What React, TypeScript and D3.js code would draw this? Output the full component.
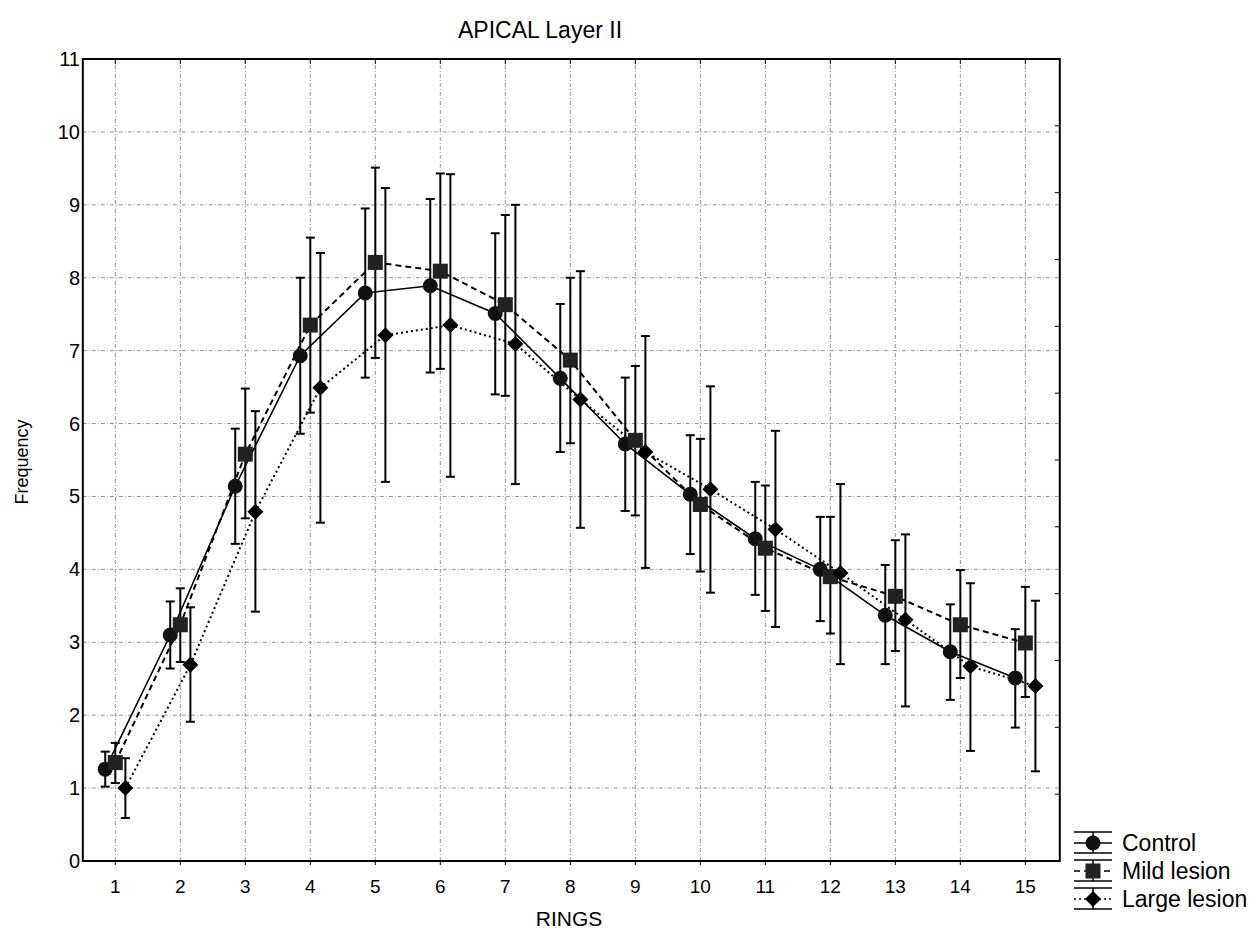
import React, { useRef, useEffect } from "react";
import * as d3 from "d3";

const rings = [1, 2, 3, 4, 5, 6, 7, 8, 9, 10, 11, 12, 13, 14, 15];
const yTicks = [0, 1, 2, 3, 4, 5, 6, 7, 8, 9, 10, 11];

const controlMean = [1.26, 3.1, 5.14, 6.93, 7.79, 7.89, 7.51, 6.62, 5.72, 5.03, 4.42, 4.0, 3.37, 2.87, 2.51];
const controlHi = [1.5, 3.56, 5.93, 8.0, 8.95, 9.08, 8.61, 7.64, 6.63, 5.84, 5.2, 4.72, 4.06, 3.52, 3.18];
const controlLo = [1.02, 2.64, 4.35, 5.86, 6.63, 6.7, 6.4, 5.61, 4.8, 4.21, 3.65, 3.29, 2.7, 2.21, 1.83];

const mildMean = [1.35, 3.24, 5.58, 7.35, 8.21, 8.09, 7.63, 6.87, 5.77, 4.89, 4.29, 3.9, 3.63, 3.24, 2.99];
const mildHi = [1.62, 3.74, 6.48, 8.55, 9.51, 9.43, 8.86, 8.0, 6.79, 5.79, 5.15, 4.72, 4.4, 3.99, 3.76];
const mildLo = [1.07, 2.73, 4.7, 6.15, 6.9, 6.75, 6.38, 5.73, 4.74, 3.97, 3.43, 3.12, 2.88, 2.51, 2.25];

const largeMean = [1.0, 2.69, 4.79, 6.49, 7.21, 7.35, 7.09, 6.33, 5.61, 5.1, 4.55, 3.95, 3.31, 2.67, 2.4];
const largeHi = [1.41, 3.48, 6.17, 8.34, 9.23, 9.42, 9.0, 8.09, 7.2, 6.51, 5.9, 5.17, 4.48, 3.81, 3.57];
const largeLo = [0.59, 1.91, 3.42, 4.64, 5.2, 5.27, 5.17, 4.57, 4.02, 3.68, 3.21, 2.7, 2.12, 1.51, 1.23];

const seriesNames = ["Control", "Mild lesion", "Large lesion"];

export default function App() {
  const svgRef = useRef<SVGSVGElement>(null);

  useEffect(() => {
    const svg = d3.select(svgRef.current);
    svg.selectAll("*").remove();

    const font = "'Liberation Sans', Arial, sans-serif";
    const x = d3.scaleLinear().domain([0.5, 15.53]).range([82.8, 1059.8]);
    const y = d3.scaleLinear().domain([0, 11]).range([861, 59]);
    const yRight = d3.scaleLinear().domain([0, 12]).range([861, 59]);

    const series = [
      { name: seriesNames[0], mean: controlMean, hi: controlHi, lo: controlLo, off: -0.155, dash: null, shape: "circle" },
      { name: seriesNames[1], mean: mildMean, hi: mildHi, lo: mildLo, off: 0, dash: "6,4", shape: "square" },
      { name: seriesNames[2], mean: largeMean, hi: largeHi, lo: largeLo, off: 0.155, dash: "2,3", shape: "diamond" },
    ];

    const g = svg.append("g");

    // grid (dash-dot, light)
    const gridDash = "4,2,1,2";
    const gridColor = "#8a8a8a";
    yTicks.slice(1, -1).forEach((t) => {
      g.append("line")
        .attr("x1", x(0.5)).attr("x2", x(15.53))
        .attr("y1", y(t)).attr("y2", y(t))
        .attr("stroke", gridColor).attr("stroke-width", 0.9)
        .attr("stroke-dasharray", gridDash);
    });
    rings.forEach((r) => {
      g.append("line")
        .attr("x1", x(r)).attr("x2", x(r))
        .attr("y1", y(0)).attr("y2", y(11))
        .attr("stroke", gridColor).attr("stroke-width", 0.9)
        .attr("stroke-dasharray", gridDash);
    });

    // lines
    series.forEach((s) => {
      const line = d3.line<number>()
        .x((_, i) => x(rings[i] + s.off))
        .y((d) => y(d));
      g.append("path")
        .attr("d", line(s.mean))
        .attr("fill", "none")
        .attr("stroke", "#000")
        .attr("stroke-width", s.dash ? 2 : 1.6)
        .attr("stroke-dasharray", s.dash);
    });

    // error bars
    series.forEach((s) => {
      rings.forEach((r, i) => {
        const cx = x(r + s.off);
        g.append("line")
          .attr("x1", cx).attr("x2", cx)
          .attr("y1", y(s.hi[i])).attr("y2", y(s.lo[i]))
          .attr("stroke", "#000").attr("stroke-width", 2);
        [s.hi[i], s.lo[i]].forEach((v) => {
          g.append("line")
            .attr("x1", cx - 4.5).attr("x2", cx + 4.5)
            .attr("y1", y(v)).attr("y2", y(v))
            .attr("stroke", "#000").attr("stroke-width", 2);
        });
      });
    });

    const drawMarker = (sel: any, shape: string, cx: number, cy: number) => {
      if (shape === "circle") {
        sel.append("circle").attr("cx", cx).attr("cy", cy).attr("r", 7.5).attr("fill", "#111");
      } else if (shape === "square") {
        sel.append("rect").attr("x", cx - 7.5).attr("y", cy - 7.5)
          .attr("width", 15).attr("height", 15).attr("fill", "#222");
      } else {
        const h = 8;
        sel.append("path")
          .attr("d", `M${cx},${cy - h}L${cx + h},${cy}L${cx},${cy + h}L${cx - h},${cy}Z`)
          .attr("fill", "#000");
      }
    };

    // markers
    series.forEach((s) => {
      rings.forEach((r, i) => drawMarker(g, s.shape, x(r + s.off), y(s.mean[i])));
    });

    // frame
    g.append("rect")
      .attr("x", x(0.5)).attr("y", y(11))
      .attr("width", x(15.53) - x(0.5)).attr("height", y(0) - y(11))
      .attr("fill", "none").attr("stroke", "#000").attr("stroke-width", 2);

    // left axis labels
    yTicks.forEach((t) => {
      g.append("text")
        .attr("x", 80).attr("y", y(t) + 7)
        .attr("text-anchor", "end")
        .attr("font-family", font).attr("font-size", 20)
        .text(t);
    });

    // right axis small inward ticks
    yRight.ticks(12).forEach((t) => {
      g.append("line")
        .attr("x1", x(15.53) - 5).attr("x2", x(15.53))
        .attr("y1", yRight(t)).attr("y2", yRight(t))
        .attr("stroke", "#000").attr("stroke-width", 1);
    });

    // bottom + top ticks, labels
    rings.forEach((r) => {
      g.append("line")
        .attr("x1", x(r)).attr("x2", x(r))
        .attr("y1", y(0)).attr("y2", y(0) + 4)
        .attr("stroke", "#000").attr("stroke-width", 1);
      g.append("line")
        .attr("x1", x(r)).attr("x2", x(r))
        .attr("y1", y(11)).attr("y2", y(11) + 5)
        .attr("stroke", "#000").attr("stroke-width", 1);
      g.append("text")
        .attr("x", x(r)).attr("y", 893)
        .attr("text-anchor", "middle")
        .attr("font-family", font).attr("font-size", 19)
        .text(r);
    });

    // titles
    g.append("text")
      .attr("x", 540).attr("y", 38)
      .attr("text-anchor", "middle")
      .attr("font-family", font).attr("font-size", 23)
      .text("APICAL Layer II");
    g.append("text")
      .attr("x", 569).attr("y", 926)
      .attr("text-anchor", "middle")
      .attr("font-family", font).attr("font-size", 21)
      .text("RINGS");
    g.append("text")
      .attr("transform", "translate(28,462) rotate(-90)")
      .attr("text-anchor", "middle")
      .attr("font-family", font).attr("font-size", 18)
      .text("Frequency");

    // legend
    const legY = [843, 871, 899];
    series.forEach((s, i) => {
      const cy = legY[i];
      const lg = g.append("g");
      [cy - 11, cy + 10].forEach((yy) => {
        lg.append("line")
          .attr("x1", 1074).attr("x2", 1112)
          .attr("y1", yy).attr("y2", yy)
          .attr("stroke", "#000").attr("stroke-width", 1.5);
      });
      lg.append("line")
        .attr("x1", 1093).attr("x2", 1093)
        .attr("y1", cy - 11).attr("y2", cy + 10)
        .attr("stroke", "#000").attr("stroke-width", 1.5);
      lg.append("line")
        .attr("x1", 1074).attr("x2", 1112)
        .attr("y1", cy).attr("y2", cy)
        .attr("stroke", "#000").attr("stroke-width", 1.5)
        .attr("stroke-dasharray", s.dash);
      drawMarker(lg, s.shape, 1093, cy);
      lg.append("text")
        .attr("x", 1122).attr("y", cy + 8)
        .attr("font-family", font).attr("font-size", 23)
        .text(s.name);
    });
  }, []);

  return (
    <svg
      ref={svgRef}
      width={1254}
      height={936}
      style={{ position: "absolute", left: 0, top: 0, background: "#fff" }}
    />
  );
}
